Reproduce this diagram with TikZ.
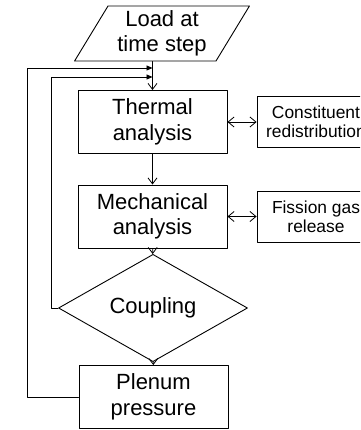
\documentclass[tikz,border=0pt]{standalone}
\usepackage{fontspec}
\setmainfont{Liberation Sans}
\usetikzlibrary{arrows.meta,shapes.geometric}

\newcommand{\bigfs}{\fontsize{22}{25.5}\selectfont}
\newcommand{\smallfs}{\fontsize{17.4}{18.8}\selectfont}

\begin{document}
\begin{tikzpicture}[x=1pt, y=-1pt, line cap=round, line join=round,
  box/.style={draw, line width=0.9pt, minimum width=149pt, minimum height=63pt,
    inner sep=0pt, align=center, font=\bigfs},
  sidebox/.style={draw, line width=0.9pt, minimum width=118pt, minimum height=51pt,
    inner sep=0pt, align=center, font=\smallfs},
  iobox/.style={draw, line width=0.9pt, trapezium, trapezium left angle=59,
    trapezium right angle=121, trapezium stretches=true,
    minimum width=175pt, minimum height=55pt, inner sep=0pt, align=center, font=\bigfs},
  decision/.style={draw, line width=0.9pt, diamond, minimum width=189pt,
    minimum height=68pt, inner sep=0pt, align=center, font=\bigfs},
  flow/.style={line width=0.8pt, -{Straight Barb[length=6pt, width=9pt]}},
  both/.style={line width=0.8pt, {Straight Barb[length=6pt, width=10pt]}-{Straight Barb[length=6pt, width=10pt]}},
  back/.style={line width=0.8pt, -{Triangle[length=6pt, width=5pt]}}]

% ----------------------------
% FRAME (y grows downward)
% ----------------------------
\useasboundingbox (0,0) rectangle (360,430);
\clip (0,0) rectangle (360,430);

% ----------------------------
% MAIN CHAIN
% ----------------------------
\node[iobox] (load) at (162,33.5) {Load at\\time step};
\node[box] (thermal) at (152.5,122) {Thermal\\analysis};
\node[box] (mech) at (152.5,216.5) {Mechanical\\analysis};
\node[decision] (couple) at (153,308) {Coupling};
\node[box] (plenum) at (153.5,397) {Plenum\\pressure};

% ----------------------------
% SIDE MODELS
% ----------------------------
\node[sidebox] (constit) at (316,122) {Constituent\\redistribution};
\node[sidebox] (fission) at (316,216.5) {Fission gas\\release};

% ----------------------------
% CONNECTORS
% ----------------------------
\draw[flow] (load.south -| thermal.north) -- (thermal.north);
\draw[flow] (thermal) -- (mech);
\draw[flow] (mech) -- (couple);
\draw[flow] (couple) -- (plenum);

\draw[both] (thermal) -- (constit);
\draw[both] (mech) -- (fission);

% feedback loops
\coordinate (fbOut) at (152.5,68);
\coordinate (fbIn) at (152.5,77);
\draw[back] (plenum.west) -- ++(-51,0) |- (fbOut);
\draw[back] (couple.west) -- ++(-7,0) |- (fbIn);

\end{tikzpicture}
\end{document}
